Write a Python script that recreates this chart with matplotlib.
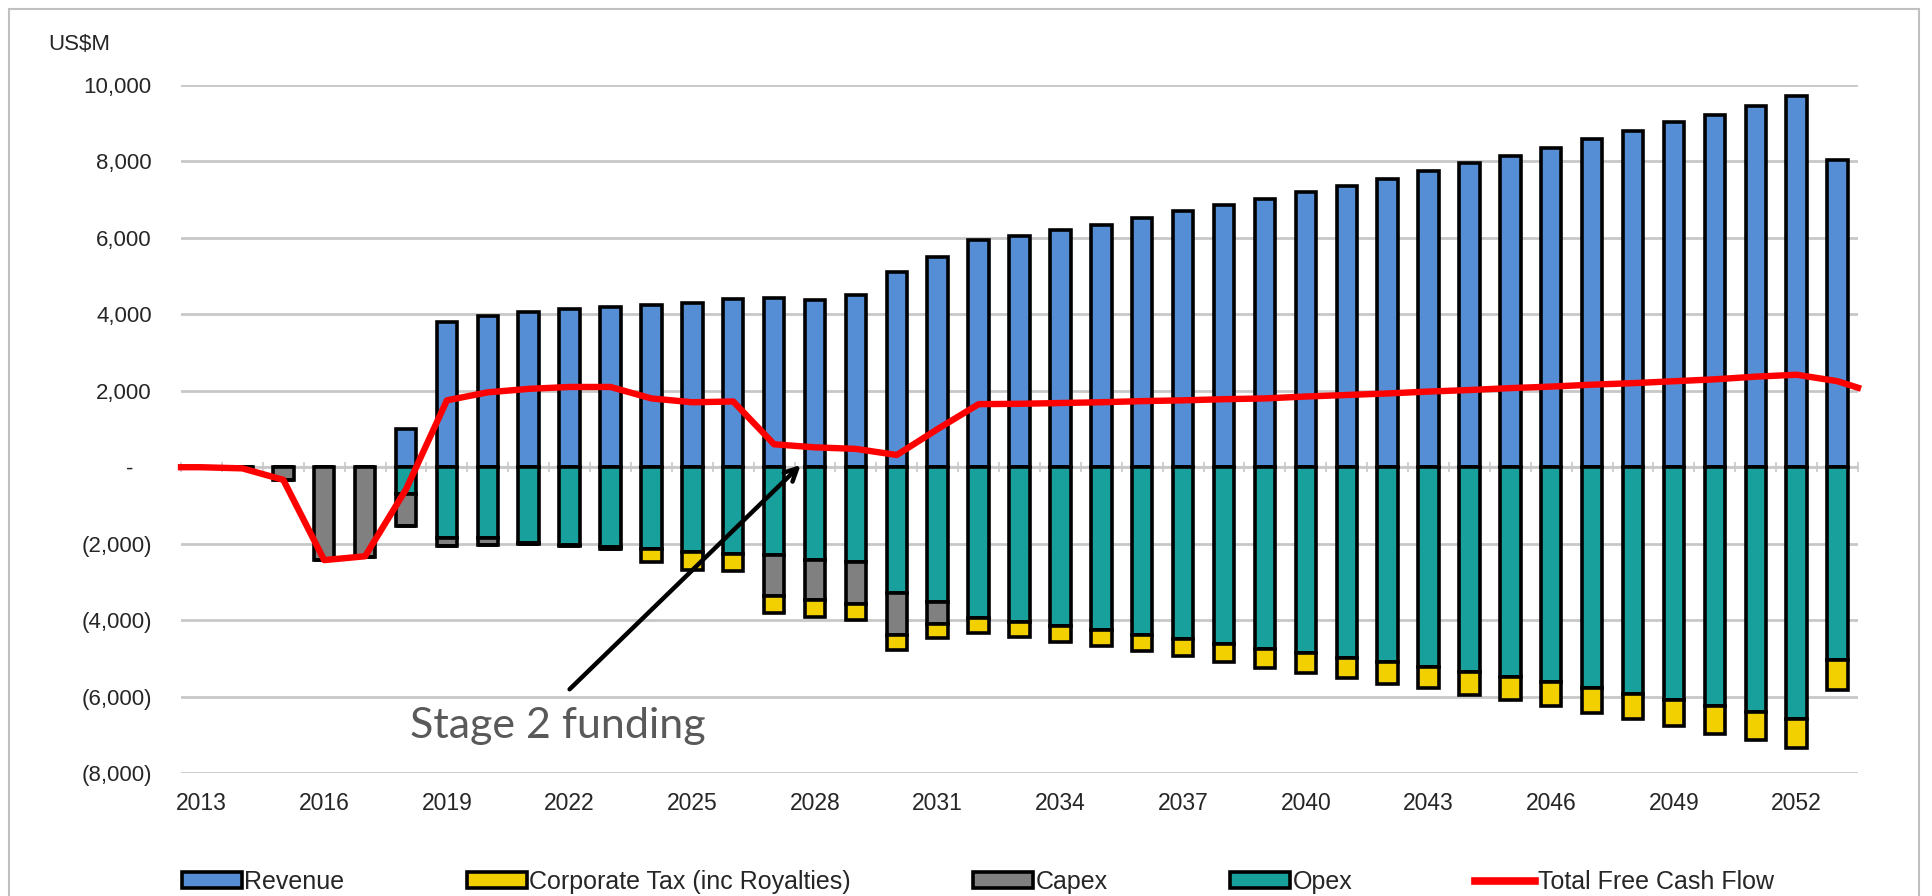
import numpy as np
import matplotlib
matplotlib.use("Agg")
import matplotlib.pyplot as plt
from matplotlib.patches import Rectangle, Patch
from matplotlib.lines import Line2D
from matplotlib.ticker import FuncFormatter, MultipleLocator

plt.rcParams["font.family"] = ["Liberation Sans", "DejaVu Sans"]

years = np.arange(2013, 2054)

# US$M
revenue = [0, 0, 0, 0, 0, 1000, 3800, 3950, 4050, 4150, 4200, 4250, 4300, 4400,
           4420, 4380, 4500, 5100, 5500, 5950, 6050, 6200, 6350, 6520, 6700, 6850,
           7020, 7200, 7350, 7550, 7750, 7950, 8150, 8350, 8600, 8800, 9020, 9220,
           9450, 9700, 8050]
opex = [0, 0, 0, 0, 0, -700, -1850, -1850, -1980, -2030, -2100, -2150, -2230, -2260,
        -2300, -2420, -2480, -3280, -3520, -3950, -4060, -4160, -4260, -4380, -4500,
        -4630, -4760, -4870, -4990, -5100, -5240, -5370, -5500, -5630, -5780, -5940,
        -6090, -6240, -6410, -6590, -5050]
capex = [0, -40, -330, -2420, -2340, -850, -220, -180, -40, -30, -30, 0, 0, 0,
         -1070, -1050, -1090, -1100, -580, 0, 0, 0, 0, 0, 0, 0, 0, 0, 0, 0, 0, 0,
         0, 0, 0, 0, 0, 0, 0, 0, 0]
tax = [0, 0, 0, 0, 0, 0, 0, 0, 0, 0, 0, -320, -460, -460, -440, -460, -420, -400,
       -380, -390, -380, -420, -430, -420, -450, -470, -490, -520, -530, -570, -540,
       -590, -590, -620, -640, -660, -680, -730, -740, -760, -780]
fcf = [0, -30, -330, -2430, -2330, -580, 1750, 1960, 2050, 2100, 2100, 1800, 1700,
       1720, 600, 520, 480, 320, 1000, 1650, 1660, 1680, 1700, 1730, 1750, 1780,
       1800, 1850, 1890, 1930, 1980, 2020, 2070, 2110, 2160, 2200, 2250, 2300, 2370,
       2420, 2250]
fcf_edges = (0, 2080)  # where the line meets the left / right plot edge

BLUE = "#558ED5"
YELLOW = "#F2D000"
GREY = "#808080"
TEAL = "#17A09C"
RED = "#FF0000"
GRID = "#C8C8C8"
TXT = "#262626"

fig = plt.figure(figsize=(19.32, 8.96), dpi=100)
ax = fig.add_axes([0.0937, 0.1373, 0.8680, 0.7678])

xlim = (2012.5, 2053.5)
w = 0.5
bar_kw = dict(width=w, edgecolor="black", linewidth=2.6, zorder=2)

opex_a = np.array(opex)
capex_a = np.array(capex)
ax.bar(years, revenue, color=BLUE, **bar_kw)
ax.bar(years, opex, color=TEAL, **bar_kw)
ax.bar(years, capex, bottom=opex_a, color=GREY, **bar_kw)
ax.bar(years, tax, bottom=opex_a + capex_a, color=YELLOW, **bar_kw)

line_x = np.concatenate([[xlim[0]], years, [xlim[1]]])
line_y = np.concatenate([[fcf_edges[0]], fcf, [fcf_edges[1]]])
ax.plot(line_x, line_y, color=RED, lw=4.6, zorder=4, solid_joinstyle="round",
        clip_on=False)

ax.set_xlim(*xlim)
ax.set_ylim(-8000, 10000)
ax.yaxis.set_major_locator(MultipleLocator(2000))


def acct(v, pos):
    if abs(v) < 1:
        return "-   "
    if v < 0:
        return f"({-v:,.0f})"
    return f"{v:,.0f}"


ax.yaxis.set_major_formatter(FuncFormatter(acct))
ax.tick_params(axis="y", length=0, pad=21, labelsize=16, labelcolor=TXT)
ax.grid(axis="y", color=GRID, lw=2)
ax.set_axisbelow(True)

for s in ("top", "right", "left"):
    ax.spines[s].set_visible(False)
ax.spines["bottom"].set_position(("data", 0))
ax.spines["bottom"].set_color(GRID)
ax.spines["bottom"].set_linewidth(1.5)
ax.spines["bottom"].set_zorder(0.6)
ax.set_xticks(np.arange(xlim[0], xlim[1] + 0.01, 1.0))
ax.tick_params(axis="x", direction="inout", length=7, width=1.2, color=GRID,
               labelbottom=False)

sec = ax.secondary_xaxis("bottom")
sec.set_xticks(years[::3])
sec.set_xticklabels([str(y) for y in years[::3]])
sec.tick_params(length=0, pad=14, labelsize=16.5, labelcolor=TXT)
sec.spines["bottom"].set_visible(False)

fig.text(48 / 1932, 1 - 45 / 896, "US$M", fontsize=16, color=TXT,
         va="center", ha="left")

# annotation
ax.annotate("", xy=(2027.65, 60), xytext=(2022.0, -5810),
            arrowprops=dict(arrowstyle="->,head_length=0.9,head_width=0.45",
                            color="black", lw=3.2, shrinkA=0, shrinkB=0),
            zorder=5)
fig.text(410 / 1932, 1 - 738 / 896, "Stage 2 funding", fontsize=31,
         family="Lato", color="#595959", va="baseline", ha="left")

handles = [
    Patch(facecolor=BLUE, edgecolor="black", linewidth=2.6, label="Revenue"),
    Patch(facecolor=YELLOW, edgecolor="black", linewidth=2.6,
          label="Corporate Tax (inc Royalties)"),
    Patch(facecolor=GREY, edgecolor="black", linewidth=2.6, label="Capex"),
    Patch(facecolor=TEAL, edgecolor="black", linewidth=2.6, label="Opex"),
    Line2D([0], [0], color=RED, lw=5.5, label="Total Free Cash Flow"),
]
leg = fig.legend(handles=handles, loc="center", bbox_to_anchor=(0.506, 1 - 882 / 896),
                 ncol=5, frameon=False, fontsize=18, handlelength=2.4,
                 handleheight=0.6, handletextpad=0.1, columnspacing=4.9)
for t in leg.get_texts():
    t.set_color(TXT)

fig.patches.append(Rectangle((9, -20), 1910, 907, transform=None, fill=False,
                             edgecolor="#C0C0C0", linewidth=1.5))

fig.savefig("out.png", dpi=100)
